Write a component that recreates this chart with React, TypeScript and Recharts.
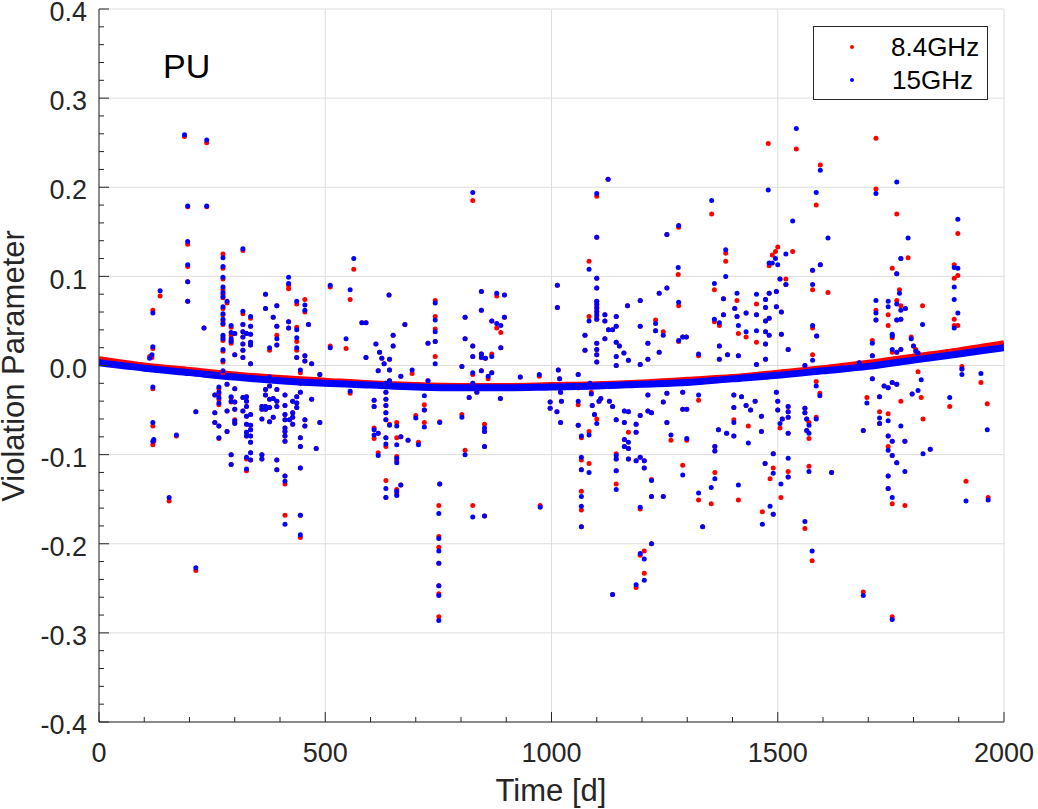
import React from 'react';
import { ComposedChart, Scatter, Line, XAxis, YAxis, CartesianGrid } from 'recharts';

// [time (d), 8.4 GHz value, 15 GHz value]
const points: [number, number, number][] = [
  [112, 0.010, 0.008], [117, 0.009, 0.012], [119, 0.062, 0.059], [119, 0.019, 0.021],
  [119, -0.026, -0.024], [119, -0.068, -0.064], [119, -0.089, -0.085], [121, -0.085, -0.083],
  [135, 0.078, 0.084], [155, -0.152, -0.148], [171, -0.079, -0.078], [189, 0.257, 0.259],
  [196, 0.178, 0.179], [196, 0.136, 0.139], [196, 0.111, 0.113], [196, 0.094, 0.094],
  [196, 0.072, 0.072], [214, -0.052, -0.052], [214, -0.230, -0.227], [232, 0.042, 0.042],
  [238, 0.250, 0.253], [238, 0.178, 0.179],
  [256, -0.033, -0.033], [256, -0.053, -0.053], [256, -0.064, -0.064], [265, -0.026, -0.024],
  [265, -0.032, -0.030], [265, -0.038, -0.036], [265, -0.044, -0.042], [265, -0.068, -0.068],
  [265, -0.082, -0.081], [274, 0.125, 0.121], [274, 0.109, 0.111], [274, 0.097, 0.099],
  [274, 0.085, 0.088], [274, 0.080, 0.082], [274, 0.076, 0.077], [274, 0.064, 0.066],
  [274, 0.057, 0.058], [274, 0.050, 0.052], [274, 0.046, 0.047], [274, 0.032, 0.034],
  [274, 0.028, 0.030], [274, 0.016, 0.018], [274, 0.004, 0.006], [274, -0.008, -0.006],
  [283, 0.070, 0.072], [283, -0.021, -0.021], [283, -0.051, -0.051], [283, -0.074, -0.074],
  [292, 0.043, 0.045], [292, 0.034, 0.037], [292, 0.028, 0.030], [292, 0.025, 0.027],
  [292, -0.036, -0.035], [292, -0.041, -0.040], [292, -0.100, -0.100], [292, -0.111, -0.111],
  [300, 0.036, 0.036], [300, 0.012, 0.012], [300, -0.026, -0.026], [300, -0.041, -0.041],
  [300, -0.049, -0.049], [300, -0.061, -0.062], [300, -0.064, -0.065],
  [318, 0.129, 0.131], [318, 0.058, 0.061], [318, 0.046, 0.046], [318, 0.038, 0.038],
  [318, 0.032, 0.032], [318, 0.024, 0.024], [318, 0.017, 0.017], [318, 0.009, 0.009],
  [318, -0.036, -0.036], [318, -0.051, -0.051], [326, 0.036, 0.036], [326, -0.035, -0.035],
  [326, -0.040, -0.040], [326, -0.046, -0.046], [326, -0.057, -0.057], [326, -0.066, -0.066],
  [326, -0.075, -0.075], [326, -0.079, -0.079], [326, -0.105, -0.103], [326, -0.118, -0.116],
  [335, 0.053, 0.055], [335, 0.044, 0.044], [335, 0.035, 0.035], [335, 0.026, 0.026],
  [335, 0.023, 0.023], [335, 0.002, 0.002], [335, -0.055, -0.055], [335, -0.067, -0.067],
  [335, -0.072, -0.072], [335, -0.079, -0.079], [335, -0.086, -0.086], [335, -0.098, -0.098],
  [335, -0.106, -0.106],
  [360, -0.046, -0.046], [360, -0.049, -0.049], [360, -0.060, -0.060], [360, -0.100, -0.100],
  [360, -0.105, -0.105], [368, 0.080, 0.080], [368, 0.064, 0.064], [368, -0.027, -0.027],
  [368, -0.033, -0.033], [368, -0.046, -0.046], [368, -0.049, -0.049], [377, 0.017, 0.020],
  [377, -0.013, -0.013], [377, -0.023, -0.023], [377, -0.038, -0.038], [377, -0.047, -0.047],
  [377, -0.063, -0.063], [385, 0.054, 0.054], [385, -0.037, -0.037], [385, -0.058, -0.058],
  [393, 0.067, 0.067], [393, 0.044, 0.044], [393, 0.034, 0.030], [393, 0.023, 0.023],
  [393, -0.027, -0.027], [393, -0.040, -0.040], [393, -0.046, -0.046], [393, -0.106, -0.106],
  [393, -0.117, -0.117],
  [411, -0.033, -0.033], [411, -0.045, -0.045], [411, -0.055, -0.055], [411, -0.061, -0.061],
  [411, -0.070, -0.070], [411, -0.074, -0.074], [411, -0.079, -0.079], [411, -0.085, -0.085],
  [411, -0.124, -0.124], [411, -0.133, -0.130], [411, -0.168, -0.178], [419, 0.086, 0.099],
  [419, 0.090, 0.092], [419, 0.049, 0.049], [419, 0.042, 0.042], [421, -0.061, -0.061],
  [428, -0.040, -0.040], [428, -0.053, -0.053], [428, -0.058, -0.058], [428, -0.066, -0.066],
  [437, 0.069, 0.072], [437, 0.043, 0.040], [437, 0.027, 0.031], [437, 0.017, 0.020],
  [437, 0.009, 0.009], [437, -0.035, -0.035], [437, -0.042, -0.042], [437, -0.047, -0.047],
  [445, -0.081, -0.081], [445, -0.091, -0.091], [445, -0.115, -0.115], [445, -0.168, -0.168],
  [445, -0.193, -0.190], [445, -0.008, -0.005], [445, -0.020, -0.020], [445, -0.030, -0.030],
  [455, 0.074, 0.068], [455, 0.060, 0.062], [455, 0.011, 0.011], [455, 0.005, 0.005],
  [455, -0.061, -0.061], [455, -0.068, -0.068], [463, 0.046, 0.046], [470, -0.038, -0.038],
  [470, 0.002, 0.002], [480, -0.093, -0.093], [488, -0.010, -0.010], [488, -0.064, -0.064],
  [511, 0.022, 0.020], [511, 0.088, 0.090], [546, 0.019, 0.030], [555, 0.074, 0.085],
  [555, -0.031, -0.029], [563, 0.108, 0.120],
  [581, 0.048, 0.048], [590, 0.048, 0.048], [590, 0.009, 0.009], [608, -0.039, -0.039],
  [608, -0.046, -0.046], [608, -0.070, -0.072], [608, -0.082, -0.078], [612, 0.024, 0.024],
  [617, -0.076, -0.076], [617, -0.098, -0.101], [617, -0.006, -0.006], [620, 0.015, 0.015],
  [625, 0.008, 0.008], [630, 0.002, 0.002], [634, -0.020, -0.020], [634, -0.030, -0.030],
  [634, -0.038, -0.038], [634, -0.045, -0.045], [634, -0.053, -0.053], [634, -0.061, -0.061],
  [634, -0.081, -0.081], [634, -0.091, -0.088], [634, -0.129, -0.138], [634, -0.148, -0.148],
  [641, 0.079, 0.079], [642, -0.005, -0.005], [642, -0.017, -0.017], [642, 0.007, 0.007],
  [642, -0.066, -0.067], [650, 0.034, 0.034], [650, 0.022, 0.022], [658, -0.064, -0.068],
  [658, -0.081, -0.089], [658, -0.102, -0.104], [658, -0.107, -0.109], [658, -0.144, -0.146],
  [658, -0.139, -0.141], [667, -0.134, -0.134], [667, -0.080, -0.080], [667, -0.012, -0.012],
  [676, 0.046, 0.046], [683, -0.084, -0.084], [692, -0.009, -0.005], [700, -0.056, -0.059],
  [706, -0.086, -0.089], [719, -0.044, -0.034], [719, -0.050, -0.050], [719, -0.064, -0.069],
  [727, 0.025, 0.025], [727, -0.017, -0.017],
  [743, 0.073, 0.070], [743, 0.055, 0.051], [743, 0.041, 0.038], [743, 0.027, 0.027],
  [743, 0.010, 0.002], [751, -0.157, -0.166], [751, -0.192, -0.194], [751, -0.204, -0.208],
  [751, -0.222, -0.222], [751, -0.247, -0.247], [751, -0.256, -0.258], [751, -0.282, -0.286],
  [753, -0.063, -0.064], [753, -0.133, -0.133],
  [802, -0.001, -0.001], [802, -0.055, -0.058], [809, 0.054, 0.054], [809, 0.030, 0.030],
  [809, -0.095, -0.100], [818, -0.036, -0.036], [826, 0.185, 0.194], [826, 0.022, 0.022],
  [826, 0.010, 0.010], [826, -0.157, -0.170], [826, -0.010, -0.008], [826, -0.020, -0.020],
  [835, -0.030, -0.030], [845, 0.083, 0.083], [845, 0.062, 0.062], [845, 0.013, 0.013],
  [845, 0.009, 0.009], [845, -0.006, -0.006], [852, -0.066, -0.070], [852, -0.074, -0.074],
  [852, -0.091, -0.091], [852, -0.169, -0.169], [854, 0.008, 0.008], [860, -0.015, -0.012],
  [868, 0.050, 0.050], [868, 0.013, 0.010], [868, -0.008, -0.008], [879, 0.078, 0.081],
  [879, 0.042, 0.047], [888, 0.037, 0.045], [888, 0.020, 0.020], [887, -0.037, -0.037],
  [896, 0.079, 0.079], [896, 0.054, 0.054], [931, -0.013, -0.013], [973, -0.012, -0.010],
  [975, -0.157, -0.159], [997, -0.041, -0.041], [997, -0.048, -0.048], [1012, -0.052, -0.052],
  [1013, 0.090, 0.090], [1013, 0.065, 0.065],
  [1015, -0.005, -0.005], [1018, -0.015, -0.015], [1020, -0.030, -0.030], [1022, -0.040, -0.040],
  [1020, -0.064, -0.064], [1059, -0.067, -0.067], [1059, -0.044, -0.040], [1059, -0.010, -0.010],
  [1059, -0.025, -0.025], [1066, -0.081, -0.079], [1066, -0.106, -0.103], [1066, -0.117, -0.117],
  [1066, -0.141, -0.147], [1066, -0.162, -0.158], [1066, -0.181, -0.181], [1074, 0.034, 0.034],
  [1074, 0.017, 0.017], [1083, 0.117, 0.108], [1083, 0.055, 0.050], [1083, -0.074, -0.078],
  [1083, -0.110, -0.120], [1085, -0.020, -0.020], [1088, -0.030, -0.032], [1090, -0.045, -0.045],
  [1095, -0.055, -0.055], [1100, -0.060, -0.065], [1100, 0.190, 0.193], [1100, 0.144, 0.144],
  [1100, 0.098, 0.098], [1100, 0.087, 0.087], [1100, 0.072, 0.072], [1100, 0.068, 0.069],
  [1100, 0.064, 0.065], [1100, 0.060, 0.061], [1100, 0.055, 0.057], [1100, 0.052, 0.052],
  [1100, 0.025, 0.025], [1100, 0.018, 0.018], [1100, 0.012, 0.012], [1100, 0.004, 0.004],
  [1105, -0.040, -0.040], [1109, -0.037, -0.037], [1118, 0.057, 0.057], [1118, 0.050, 0.050],
  [1118, 0.030, 0.030], [1125, 0.209, 0.209], [1126, 0.040, 0.040], [1128, -0.040, -0.040],
  [1135, 0.040, 0.040], [1135, -0.046, -0.046], [1135, -0.257, -0.257], [1143, 0.055, 0.055],
  [1143, 0.044, 0.044], [1143, 0.026, 0.026], [1143, 0.010, 0.010], [1143, 0.000, 0.000],
  [1143, -0.061, -0.061], [1143, -0.099, -0.101], [1143, -0.105, -0.105], [1143, -0.118, -0.118],
  [1143, -0.133, -0.139], [1150, 0.022, 0.022], [1160, 0.014, 0.014], [1161, -0.051, -0.051],
  [1161, -0.064, -0.064], [1161, -0.083, -0.083], [1161, -0.091, -0.091], [1168, 0.067, 0.067],
  [1170, 0.006, 0.006], [1170, -0.052, -0.052], [1170, -0.075, -0.086], [1170, -0.093, -0.093],
  [1170, -0.105, -0.105], [1187, -0.066, -0.066], [1187, -0.075, -0.075], [1187, -0.107, -0.107],
  [1187, -0.249, -0.246], [1196, 0.073, 0.073], [1196, 0.044, 0.044], [1196, 0.001, 0.001],
  [1196, -0.056, -0.056], [1196, -0.103, -0.103], [1196, -0.161, -0.159], [1196, -0.213, -0.211],
  [1205, -0.107, -0.107], [1205, -0.115, -0.115], [1205, -0.208, -0.217], [1205, -0.233, -0.241],
  [1213, 0.025, 0.025], [1213, 0.007, 0.007], [1213, -0.033, -0.033], [1213, -0.051, -0.051],
  [1221, -0.128, -0.129], [1221, -0.147, -0.147], [1221, -0.200, -0.200], [1221, -0.053, -0.053],
  [1230, 0.051, 0.047], [1230, 0.039, 0.039], [1238, 0.081, 0.081], [1238, 0.015, 0.015],
  [1247, 0.038, 0.034], [1247, -0.041, -0.041], [1247, -0.147, -0.147], [1255, 0.147, 0.147],
  [1255, 0.087, 0.087], [1255, -0.031, -0.031], [1255, -0.064, -0.064], [1264, -0.084, -0.078],
  [1280, 0.102, 0.110], [1281, 0.155, 0.157], [1281, 0.067, 0.071], [1281, 0.027, 0.028],
  [1290, 0.032, 0.032], [1290, -0.030, -0.030], [1290, -0.049, -0.049], [1290, -0.112, -0.123],
  [1298, 0.032, 0.032], [1299, -0.049, -0.049], [1299, -0.084, -0.082], [1325, 0.011, 0.013],
  [1325, -0.039, -0.033], [1325, -0.151, -0.143], [1334, -0.181, -0.181], [1353, -0.155, -0.137],
  [1354, 0.170, 0.185], [1360, 0.085, 0.092], [1360, 0.049, 0.052], [1361, -0.091, -0.091],
  [1361, -0.096, -0.096], [1361, -0.120, -0.127], [1369, -0.072, -0.072], [1371, 0.045, 0.048],
  [1371, 0.022, 0.022], [1371, 0.007, 0.007], [1380, 0.075, 0.075], [1380, 0.057, 0.057],
  [1385, 0.126, 0.130], [1385, 0.117, 0.100], [1387, -0.076, -0.076], [1389, 0.012, 0.012],
  [1403, -0.033, -0.033], [1403, -0.047, -0.047], [1403, -0.061, -0.064], [1403, -0.079, -0.079],
  [1405, 0.064, 0.064], [1410, 0.073, 0.081], [1410, 0.055, 0.055], [1413, 0.036, 0.045],
  [1413, 0.011, 0.011], [1413, -0.151, -0.134], [1420, -0.035, -0.035], [1430, 0.059, 0.059],
  [1430, 0.032, 0.038], [1430, -0.045, -0.045], [1435, -0.068, -0.087], [1440, -0.050, -0.050],
  [1450, -0.040, -0.040], [1453, 0.069, 0.080], [1453, 0.057, 0.057], [1453, 0.026, 0.039],
  [1453, 0.001, 0.001], [1464, -0.057, -0.057], [1464, -0.074, -0.074], [1466, -0.164, -0.178],
  [1472, -0.110, -0.110], [1473, 0.074, 0.074], [1473, 0.065, 0.065], [1473, 0.050, 0.050],
  [1473, 0.038, 0.038], [1473, 0.024, 0.024], [1473, 0.007, 0.007], [1479, 0.249, 0.197],
  [1481, 0.081, 0.081], [1481, 0.053, 0.053], [1481, 0.034, 0.034], [1481, 0.112, 0.115],
  [1483, -0.127, -0.158], [1488, 0.124, 0.115], [1490, -0.099, -0.099], [1490, -0.115, -0.121],
  [1490, -0.167, -0.167], [1495, 0.128, 0.120], [1497, 0.083, 0.083], [1497, 0.066, 0.066],
  [1497, -0.030, -0.030], [1500, 0.133, 0.113], [1500, -0.040, -0.040], [1500, -0.050, -0.050],
  [1505, 0.097, 0.097], [1505, -0.070, -0.065], [1507, -0.148, -0.133], [1508, 0.060, 0.060],
  [1508, 0.035, 0.035], [1510, -0.060, -0.060], [1518, 0.097, 0.125], [1518, 0.091, 0.091],
  [1523, 0.018, 0.018], [1523, -0.046, -0.046], [1523, -0.052, -0.052], [1523, -0.058, -0.058],
  [1523, -0.076, -0.076], [1523, -0.119, -0.104], [1523, -0.125, -0.125], [1533, 0.128, 0.162],
  [1541, 0.243, 0.266], [1560, 0.000, 0.000], [1560, -0.048, -0.048], [1560, -0.053, -0.053],
  [1560, -0.183, -0.175], [1564, -0.060, -0.060], [1564, -0.073, -0.073], [1569, -0.064, -0.067],
  [1569, -0.082, -0.076], [1569, -0.113, -0.119], [1576, -0.219, -0.208], [1577, 0.107, 0.107],
  [1577, 0.085, 0.091], [1577, 0.042, 0.045], [1577, 0.012, 0.006], [1585, 0.180, 0.194],
  [1585, -0.018, -0.023], [1585, -0.058, -0.060], [1586, 0.033, 0.033], [1593, -0.031, -0.034],
  [1594, 0.225, 0.219], [1594, 0.113, 0.113], [1611, 0.082, 0.143], [1619, -0.120, -0.120],
  [1680, 0.003, 0.003], [1689, -0.073, -0.073], [1689, -0.254, -0.258], [1697, -0.036, -0.042],
  [1709, 0.028, 0.025], [1709, 0.011, 0.011], [1709, -0.015, -0.015], [1717, 0.255, 0.073],
  [1717, 0.198, 0.193], [1717, 0.062, 0.059], [1717, 0.051, 0.051], [1725, -0.035, -0.035],
  [1725, -0.052, -0.059], [1725, -0.065, -0.065], [1735, -0.023, -0.023], [1744, 0.057, 0.072],
  [1744, 0.045, 0.066], [1744, -0.025, -0.025], [1744, -0.054, -0.062], [1744, -0.079, -0.079],
  [1744, -0.091, -0.095], [1744, -0.124, -0.124], [1744, -0.138, -0.138], [1753, 0.109, 0.035],
  [1753, 0.031, 0.033], [1753, 0.015, 0.018], [1753, -0.019, -0.019], [1753, -0.085, -0.085],
  [1753, -0.101, -0.101], [1753, -0.155, -0.148], [1753, -0.282, -0.285], [1763, 0.170, 0.206],
  [1763, 0.103, 0.103], [1763, 0.073, 0.069], [1763, 0.051, 0.051], [1763, 0.015, 0.015],
  [1763, -0.021, -0.021], [1763, -0.109, -0.109], [1769, 0.085, 0.081], [1772, 0.120, 0.120],
  [1772, 0.067, 0.062], [1772, 0.052, 0.052], [1772, 0.018, 0.018], [1772, -0.040, -0.068],
  [1781, -0.157, -0.119], [1781, -0.085, -0.085], [1782, 0.064, 0.064], [1788, 0.121, 0.143],
  [1795, 0.032, 0.030], [1797, -0.032, -0.032], [1800, 0.022, 0.022], [1805, 0.018, 0.016],
  [1810, 0.014, 0.014], [1810, -0.007, -0.028], [1817, -0.036, -0.016], [1820, 0.067, 0.046],
  [1821, -0.060, -0.099], [1837, -0.094, -0.094],
  [1880, -0.046, -0.036], [1890, 0.113, 0.110], [1890, 0.098, 0.088], [1890, 0.052, 0.074],
  [1890, 0.045, 0.042], [1898, 0.101, 0.109], [1898, 0.148, 0.164], [1898, 0.045, 0.059],
  [1907, -0.001, -0.010], [1907, -0.004, -0.004], [1916, -0.130, -0.152], [1949, -0.019, -0.009],
  [1963, -0.043, -0.072], [1965, -0.148, -0.151],
];

// fitted trend curves, read every 100 d
const fitTimes = [0, 100, 200, 300, 400, 500, 600, 700, 800, 900, 1000, 1100, 1200, 1300, 1400, 1500, 1600, 1700, 1800, 1900, 2000];
const fit84 = [0.007, 0.000, -0.005, -0.010, -0.014, -0.017, -0.020, -0.022, -0.023, -0.023, -0.022, -0.021, -0.019, -0.016, -0.013, -0.008, -0.003, 0.003, 0.010, 0.017, 0.025];
const fit15 = [0.003, -0.003, -0.008, -0.013, -0.017, -0.020, -0.022, -0.024, -0.025, -0.025, -0.024, -0.023, -0.021, -0.019, -0.015, -0.011, -0.006, -0.001, 0.006, 0.013, 0.020];

const xTicks = [0, 500, 1000, 1500, 2000];
const yTicks = [-0.4, -0.3, -0.2, -0.1, 0, 0.1, 0.2, 0.3, 0.4];

const xMinor = Array.from({ length: 21 }, (_, i) => i * 100);
const yMinor = Array.from({ length: 41 }, (_, i) => Math.round((-0.4 + i * 0.02) * 100) / 100);

const red84 = points.map(([t, a]) => ({ t, v: a }));
const blue15 = points.map(([t, , b]) => ({ t, v: b }));
const fitRed = fitTimes.map((t, i) => ({ t, v: fit84[i] }));
const fitBlue = fitTimes.map((t, i) => ({ t, v: fit15[i] }));

const FONT = '"Liberation Sans", Arial, Helvetica, sans-serif';
const AXIS = '#262626';

const isMajor = (v: number, majors: number[]) => majors.some((m) => Math.abs(m - v) < 1e-6);

const LeftTick = (props: any) => {
  const { x, y, payload } = props;
  const major = isMajor(payload.value, yTicks);
  return (
    <g>
      <line x1={x} x2={x + (major ? 10 : 5)} y1={y} y2={y} stroke={AXIS} />
      {major && (
        <text x={x - 12} y={y} dy="0.45em" textAnchor="end" fontSize={27} fill={AXIS} fontFamily={FONT}>
          {payload.value.toFixed(1)}
        </text>
      )}
    </g>
  );
};

const RightTick = (props: any) => {
  const { x, y, payload } = props;
  const major = isMajor(payload.value, yTicks);
  return <line x1={x} x2={x - (major ? 10 : 5)} y1={y} y2={y} stroke={AXIS} />;
};

const BottomTick = (props: any) => {
  const { x, y, payload } = props;
  const major = isMajor(payload.value, xTicks);
  return (
    <g>
      <line x1={x} x2={x} y1={y} y2={y - (major ? 10 : 5)} stroke={AXIS} />
      {major && (
        <text x={x} y={y + 40} textAnchor="middle" fontSize={27} fill={AXIS} fontFamily={FONT}>
          {payload.value}
        </text>
      )}
    </g>
  );
};

const TopTick = (props: any) => {
  const { x, y, payload } = props;
  const major = isMajor(payload.value, xTicks);
  return <line x1={x} x2={x} y1={y} y2={y + (major ? 10 : 5)} stroke={AXIS} />;
};

const dot = (color: string) => (p: any) => <circle cx={p.cx} cy={p.cy} r={2.5} fill={color} />;

const App = () => {
  return (
    <div style={{ position: 'absolute', left: 0, top: 0, width: 1038, height: 809, background: '#fff' }}>
      <ComposedChart width={1038} height={809} margin={{ top: 9, right: 34, bottom: 0, left: 0 }}>
        <CartesianGrid stroke="#dedede" horizontalValues={yTicks} verticalValues={xTicks} />
        <XAxis
          dataKey="t"
          type="number"
          domain={[0, 2000]}
          allowDataOverflow
          ticks={xMinor}
          interval={0}
          height={87}
          tickSize={0}
          tickMargin={0}
          tickLine={false}
          stroke={AXIS}
          tick={BottomTick}
        />
        <XAxis
          xAxisId="top"
          orientation="top"
          type="number"
          domain={[0, 2000]}
          allowDataOverflow
          ticks={xMinor}
          interval={0}
          height={0}
          tickSize={0}
          tickMargin={0}
          tickLine={false}
          stroke={AXIS}
          tick={TopTick}
        />
        <YAxis
          dataKey="v"
          type="number"
          domain={[-0.4, 0.4]}
          allowDataOverflow
          ticks={yMinor}
          interval={0}
          width={99}
          tickSize={0}
          tickMargin={0}
          tickLine={false}
          stroke={AXIS}
          tick={LeftTick}
        />
        <YAxis
          yAxisId="right"
          orientation="right"
          type="number"
          domain={[-0.4, 0.4]}
          allowDataOverflow
          ticks={yMinor}
          interval={0}
          width={0}
          tickSize={0}
          tickMargin={0}
          tickLine={false}
          stroke={AXIS}
          tick={RightTick}
        />
        <Scatter data={red84} dataKey="v" fill="#ff0000" shape={dot('#ff0000')} isAnimationActive={false} />
        <Scatter data={blue15} dataKey="v" fill="#0000ff" shape={dot('#0000ff')} isAnimationActive={false} />
        <Line data={fitRed} dataKey="v" type="monotone" stroke="#ff0000" strokeWidth={6} dot={false} activeDot={false} isAnimationActive={false} />
        <Line data={fitBlue} dataKey="v" type="monotone" stroke="#0000ff" strokeWidth={7} dot={false} activeDot={false} isAnimationActive={false} />
      </ComposedChart>
      <svg width={1038} height={809} style={{ position: 'absolute', left: 0, top: 0, pointerEvents: 'none' }}>
        <text x={163} y={78} fontSize={34} fill="#000" fontFamily={FONT}>PU</text>
        <rect x={813.5} y={26.5} width={174} height={73} fill="#fff" stroke={AXIS} />
        <circle cx={852} cy={47} r={2} fill="#ff0000" />
        <circle cx={852} cy={80} r={2} fill="#0000ff" />
        <text x={891} y={56} fontSize={26} fill="#000" fontFamily={FONT}>8.4GHz</text>
        <text x={892} y={89} fontSize={26} fill="#000" fontFamily={FONT}>15GHz</text>
        <text x={551} y={801} textAnchor="middle" fontSize={31} fill={AXIS} fontFamily={FONT}>Time [d]</text>
        <text x={24} y={366} transform="rotate(-90 24 366)" textAnchor="middle" fontSize={31} fill={AXIS} fontFamily={FONT}>
          Violation Parameter
        </text>
      </svg>
    </div>
  );
};

export default App;
